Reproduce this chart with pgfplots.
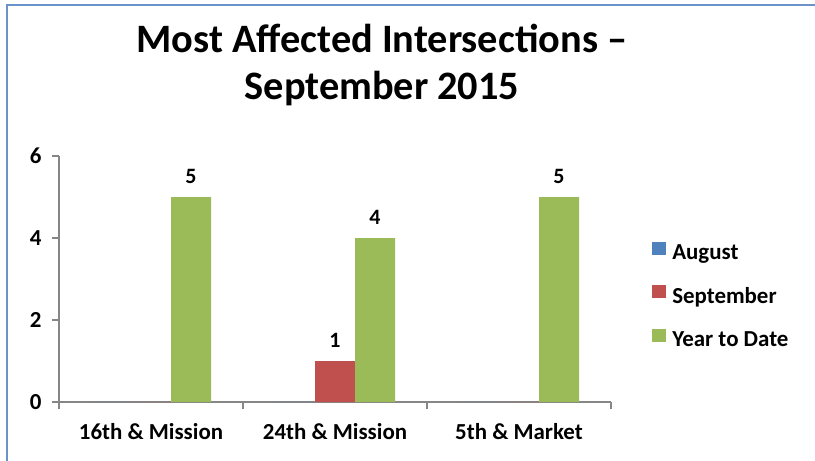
\documentclass[border=0pt]{standalone}
\usepackage{fontspec}
\setmainfont{Carlito}
\usepackage{pgfplots}
\pgfplotsset{compat=1.18}
\definecolor{aug}{HTML}{4F81BD}
\definecolor{sep}{HTML}{C0504D}
\definecolor{ytd}{HTML}{9BBB59}
\definecolor{axgray}{HTML}{868686}
\definecolor{framec}{HTML}{6A93C9}
\begin{document}
\begin{tikzpicture}
\useasboundingbox (0,-461bp) rectangle (815bp,0);
\draw[framec, line width=1.6bp] (7bp,-461bp) -- (7bp,-5bp) -- (815bp,-5bp);
\node[font=\fontsize{40.5}{40.5}\selectfont\bfseries, anchor=base, inner sep=0pt] at (382bp,-52bp) {Most Affected Intersections --};
\node[font=\fontsize{40.5}{40.5}\selectfont\bfseries, anchor=base, inner sep=0pt] at (382bp,-99bp) {September 2015};
\begin{axis}[
  at={(59bp,-402bp)}, anchor=south west,
  scale only axis, width=552bp, height=246bp,
  xmin=-0.5, xmax=2.5, ymin=0, ymax=6,
  ytick={0,2,4,6},
  xtick={-0.5,0.5,1.5,2.5}, xticklabels={},
  extra x ticks={0,1,2},
  extra x tick labels={16th \& Mission, 24th \& Mission, 5th \& Market},
  extra x tick style={major tick length=0pt},
  axis x line*=bottom, axis y line*=left,
  axis line style={axgray, line width=1.2bp, -},
  tick style={axgray, line width=1.2bp},
  tick align=outside, major tick length=7bp,
  /pgf/number format/assume math mode=true,
  ticklabel style={font=\fontsize{23}{23}\selectfont\bfseries, text=black},
  yticklabel style={xshift=-7bp},
  xticklabel style={yshift=-18bp},
  ybar=0pt, bar width=40bp,
  nodes near coords={\pgfmathfloattofixed{\pgfplotspointmeta}\ifdim\pgfmathresult pt=0pt\else\pgfmathprintnumber{\pgfplotspointmeta}\fi},
  every node near coord/.append style={font=\fontsize{22}{22}\selectfont\bfseries, text=black, anchor=south, yshift=10bp},
  legend style={at={(1.069,0.432)}, anchor=west, draw=none, fill=none,
    font=\fontsize{23}{23}\selectfont\bfseries, row sep=22bp},
  legend cell align=left,
  legend image code/.code={\fill[#1] (0bp,-2bp) rectangle (14bp,11bp); \path (18bp,5bp);},
  clip=false,
]
\addplot[fill=aug, draw=none] coordinates {(0,0) (1,0) (2,0)};
\addplot[fill=sep, draw=none] coordinates {(0,0) (1,1) (2,0)};
\addplot[fill=ytd, draw=none] coordinates {(0,5) (1,4) (2,5)};
\legend{August, September, Year to Date}
\end{axis}
\end{tikzpicture}
\end{document}
